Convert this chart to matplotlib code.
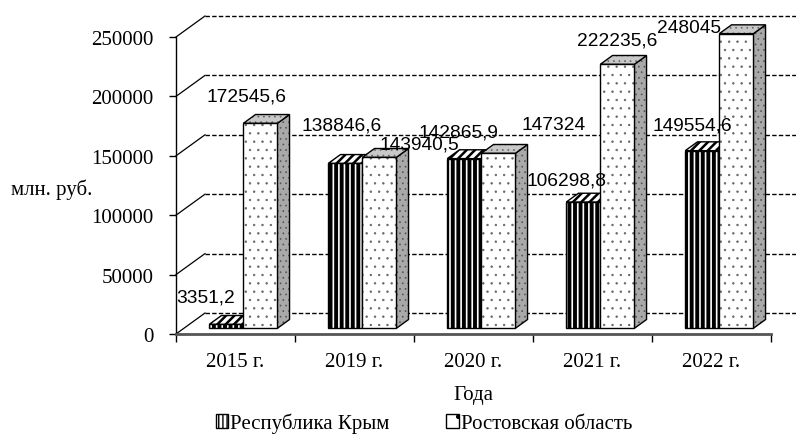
import matplotlib
matplotlib.use('Agg')
import matplotlib as mpl
import matplotlib.pyplot as plt
from matplotlib.patches import Polygon, Patch

# ---------------- data ----------------
years = ['2015 г.', '2019 г.', '2020 г.', '2021 г.', '2022 г.']
crimea = [3351.2, 138846.6, 142865.9, 106298.8, 149554.6]
rostov = [172545.6, 143940.5, 147324, 222235.6, 248045]
series_names = ['Республика Крым', 'Ростовская область']
yticks = [0, 50000, 100000, 150000, 200000, 250000]
x_title = 'Года'
y_title = 'млн. руб.'

# label offsets (pixels) from bar front-top centre
crimea_off = [(-21, 27), (-4, 38), (-6, 27), (-17, 22), (-10, 26)]
rostov_off = [(-14, 27), (40, 13), (55, 29), (0, 24), (-47, 6)]

def fmt(v):
    s = f'{v:.1f}'.replace('.', ',')
    return s[:-2] if s.endswith(',0') else s

SERIF = ['Liberation Serif', 'DejaVu Serif']
SANS = ['Liberation Sans', 'DejaVu Sans']

W, H, DPI = 796, 435, 100
fig = plt.figure(figsize=(W / DPI, H / DPI), dpi=DPI)
fig.patch.set_facecolor('white')

left_px, right_px, zero_px, top_px = 176, 771, 335, 38
ax = fig.add_axes([left_px / W, (H - zero_px) / H, (right_px - left_px) / W,
                   (zero_px - top_px) / H])
n = len(years)
ymax = yticks[-1]
ax.set_xlim(0, n)
ax.set_ylim(0, ymax)
ax.set_facecolor('none')

# depth geometry (data units)
px_per_cat = (right_px - left_px) / n
px_per_val = (zero_px - top_px) / ymax
WALL_DX = 29 / px_per_cat
WALL_DY = 21 / px_per_val
F0, F1 = 0.27, 0.69
BW = 0.286

def P(x, v, d):
    return (x + d * WALL_DX, v + d * WALL_DY)

# back wall gridlines + diagonals
for v in yticks:
    ax.plot([P(0, v, 1)[0], P(n, v, 1)[0] + 0.2], [P(0, v, 1)[1]] * 2,
            color='black', lw=1.0, ls=(0, (3.2, 1.6)), clip_on=False, zorder=1)
    ax.plot([0, P(0, v, 1)[0]], [v, P(0, v, 1)[1]], color='black', lw=0.9,
            clip_on=False, zorder=1)

def face(pts, fc, hatch, hcolor, hlw, z):
    with mpl.rc_context({'hatch.linewidth': hlw}):
        p = Polygon(pts, closed=True, facecolor=fc, edgecolor=hcolor, lw=0,
                    hatch=hatch, zorder=z, clip_on=False)
        if hasattr(p, 'set_hatch_linewidth'):
            p.set_hatch_linewidth(hlw)
    ax.add_patch(p)
    ax.add_patch(Polygon(pts, closed=True, facecolor='none', edgecolor='black',
                         lw=1.0, zorder=z + 0.01, clip_on=False))

def bar(x0, v, z, style):
    x1 = x0 + BW
    front = [P(x0, 0, F0), P(x1, 0, F0), P(x1, v, F0), P(x0, v, F0)]
    top = [P(x0, v, F0), P(x1, v, F0), P(x1, v, F1), P(x0, v, F1)]
    side = [P(x1, 0, F0), P(x1, 0, F1), P(x1, v, F1), P(x1, v, F0)]
    if style == 'crimea':
        face(side, 'white', '|||', 'black', 2.6, z)
        face(top, 'white', '////', 'black', 1.8, z + 0.1)
        face(front, 'white', '|||', 'black', 2.8, z + 0.2)
    else:
        face(side, '#a9a9a9', '...', '#555555', 0.5, z)
        face(top, '#c8c8c8', '...', '#666666', 0.5, z + 0.1)
        face(front, 'white', '..', '#666666', 0.5, z + 0.2)

for i in range(n):
    bar(i + 0.5 - BW, crimea[i], 3 + i, 'crimea')
    bar(i + 0.5, rostov[i], 3.5 + i, 'rostov')

# data labels
for i in range(n):
    for vals, offs, x0 in ((crimea, crimea_off, i + 0.5 - BW),
                           (rostov, rostov_off, i + 0.5)):
        ax.annotate(fmt(vals[i]), xy=P(x0 + BW / 2, vals[i], F0),
                    xytext=offs[i], textcoords='offset pixels',
                    ha='center', va='center', fontsize=13.8, family=SANS,
                    color='black', zorder=20, annotation_clip=False)

# axes / spines
for s in ('top', 'right'):
    ax.spines[s].set_visible(False)
ax.spines['left'].set_linewidth(1.0)
ax.spines['bottom'].set_linewidth(2.0)
ax.spines['bottom'].set_color('#555555')
ax.spines['left'].set_zorder(30)
ax.spines['bottom'].set_zorder(30)

ax.set_yticks(yticks)
ax.set_yticklabels([str(t) for t in yticks], family=SERIF, fontsize=15)
ax.tick_params(axis='y', direction='out', length=5, width=1, pad=11)

ax.set_xticks(range(n + 1))
ax.set_xticklabels([''] * (n + 1))
ax.tick_params(axis='x', which='major', direction='out', length=6, width=1)
ax.set_xticks([i + 0.5 for i in range(n)], minor=True)
ax.set_xticklabels(years, minor=True, family=SERIF, fontsize=15)
ax.tick_params(axis='x', which='minor', length=0, pad=13)

ax.set_xlabel(x_title, family=SERIF, fontsize=15, labelpad=10)
fig.text(52 / W, 1 - 190 / H, y_title, family=SERIF, fontsize=15,
         ha='center', va='center')

with mpl.rc_context({'hatch.linewidth': 1.8}):
    h1 = Patch(facecolor='white', edgecolor='black', hatch='||||', lw=1.0)
    if hasattr(h1, 'set_hatch_linewidth'):
        h1.set_hatch_linewidth(1.8)
with mpl.rc_context({'hatch.linewidth': 0.6}):
    h2 = Patch(facecolor='white', edgecolor='black', hatch='.', lw=1.0)
    if hasattr(h2, 'set_hatch_linewidth'):
        h2.set_hatch_linewidth(0.6)
leg = fig.legend([h1, h2], series_names, loc='center',
                 bbox_to_anchor=(424 / W, 1 - 424 / H), ncol=2, frameon=False,
                 prop={'family': SERIF, 'size': 15}, handlelength=0.6,
                 handleheight=0.6, handletextpad=0.1, columnspacing=2.7,
                 borderpad=0)

fig.savefig('out.png', dpi=DPI)
